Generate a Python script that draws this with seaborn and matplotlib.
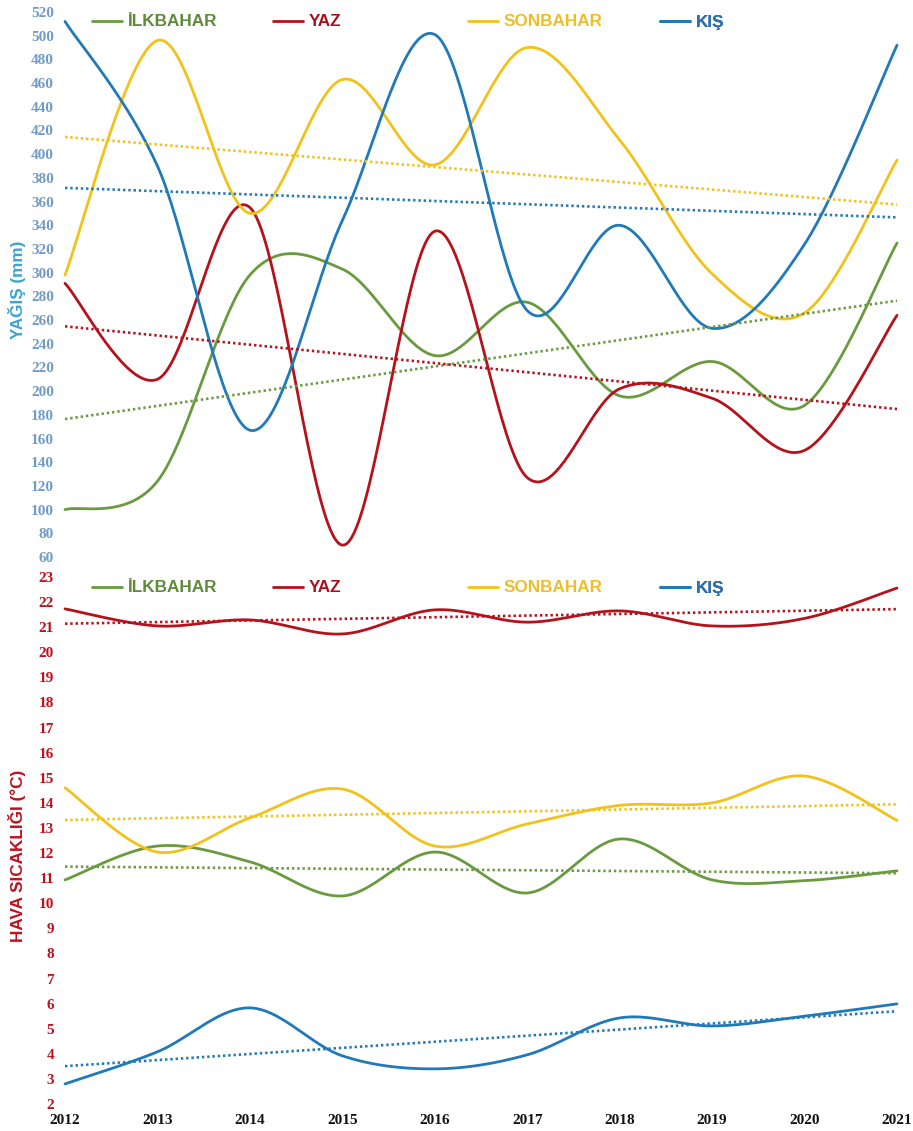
import numpy as np
import pandas as pd
import matplotlib
matplotlib.use("Agg")
import matplotlib.pyplot as plt
import seaborn as sns
from matplotlib.lines import Line2D

years = [2012, 2013, 2014, 2015, 2016, 2017, 2018, 2019, 2020, 2021]
series_names = ["İLKBAHAR", "YAZ", "SONBAHAR", "KIŞ"]

# Precipitation (mm)
rain_ilkbahar = [100, 124, 298, 303, 230, 275, 196, 225, 188, 325]
rain_yaz = [291, 210, 355, 70, 335, 127, 202, 194, 150, 264]
rain_sonbahar = [298, 496, 350, 463, 391, 490, 412, 299, 266, 395]
rain_kis = [512, 390, 167, 344, 501, 268, 340, 253, 324, 492]

# Air temperature (°C)
temp_ilkbahar = [10.93, 12.28, 11.65, 10.29, 12.04, 10.41, 12.56, 10.93, 10.9, 11.29]
temp_yaz = [21.73, 21.05, 21.29, 20.73, 21.69, 21.2, 21.65, 21.05, 21.35, 22.56]
temp_sonbahar = [14.6, 12.04, 13.4, 14.55, 12.28, 13.16, 13.9, 14.0, 15.07, 13.3]
temp_kis = [2.8, 4.08, 5.83, 3.92, 3.4, 3.96, 5.43, 5.11, 5.5, 5.99]

rain_ticks = list(range(60, 521, 20))
temp_ticks = list(range(2, 24, 1))

colors = {"İLKBAHAR": "#6A9A3E", "YAZ": "#B5121B", "SONBAHAR": "#F2C21B", "KIŞ": "#2079B8"}
label_colors = {"İLKBAHAR": "#5E8A3A", "YAZ": "#A8101E", "SONBAHAR": "#EDBE2C", "KIŞ": "#2E6FAE"}


def smooth(xs, ys, n=40):
    xs = np.asarray(xs, float)
    ys = np.asarray(ys, float)
    m = len(xs)
    px = np.concatenate([[xs[0]], xs, [xs[-1]]])
    py = np.concatenate([[ys[0]], ys, [ys[-1]]])
    ox, oy = [], []
    for i in range(m - 1):
        p0, p1, p2, p3 = (np.array([px[i + k], py[i + k]]) for k in range(4))
        b1 = p1 + (p2 - p0) / 6
        b2 = p2 - (p3 - p1) / 6
        t = np.linspace(0, 1, n, endpoint=(i == m - 2))
        pts = ((1 - t) ** 3)[:, None] * p1 + (3 * (1 - t) ** 2 * t)[:, None] * b1 \
            + (3 * (1 - t) * t ** 2)[:, None] * b2 + (t ** 3)[:, None] * p2
        ox.extend(pts[:, 0]); oy.extend(pts[:, 1])
    return ox, oy


def build(values):
    rows = []
    for name, vals in zip(series_names, values):
        sx, sy = smooth(years, vals)
        for a, b in zip(sx, sy):
            rows.append({"year": a, "value": b, "series": name})
    return pd.DataFrame(rows)


rain_vals = [rain_ilkbahar, rain_yaz, rain_sonbahar, rain_kis]
temp_vals = [temp_ilkbahar, temp_yaz, temp_sonbahar, temp_kis]

sns.set_theme(style="white")
W, H = 913, 1131
fig = plt.figure(figsize=(W / 100, H / 100), dpi=100)


def fx(px):
    return px / W


def fy(py):
    return 1 - py / H


left, right = 65, 897
ax1 = fig.add_axes([fx(left), fy(557), fx(right - left), fy(12) - fy(557)])
ax2 = fig.add_axes([fx(left), fy(1104), fx(right - left), fy(577) - fy(1104)])

tick_font = {"family": "Liberation Serif", "weight": "bold", "size": 11}

for ax, vals, ticks, ylim, tcol, ylabel, lcol, ly in [
    (ax1, rain_vals, rain_ticks, (60, 520), "#6F9BC6", "YAĞIŞ (mm)", "#3AA5CF", 0.49),
    (ax2, temp_vals, temp_ticks, (2, 23), "#C0101E", "HAVA SICAKLIĞI (°C)", "#C0101E", 0.47),
]:
    df = build(vals)
    sns.lineplot(data=df, x="year", y="value", hue="series", palette=colors,
                 hue_order=series_names, sort=False, estimator=None, units="series",
                 legend=False, lw=2.0, ax=ax)
    for line in ax.lines:
        line.set_clip_on(False)
    for name, v in zip(series_names, vals):
        sns.regplot(x=np.array(years, float), y=np.array(v, float), scatter=False, ci=None,
                    truncate=True, ax=ax,
                    line_kws=dict(color=colors[name], lw=1.9, ls=(0, (0.9, 1.1))))
    ax.set_xlim(2012, 2021)
    ax.set_ylim(*ylim)
    ax.set_yticks(ticks)
    ax.set_yticklabels([str(t) for t in ticks], fontdict=tick_font, color=tcol)
    ax.tick_params(axis="y", length=0, pad=8)
    for s in ax.spines.values():
        s.set_visible(False)
    ax.grid(False)
    ax.set_xlabel("")
    ax.set_ylabel(ylabel, color=lcol, fontsize=12.3, fontweight="bold", family="Liberation Sans")
    ax.yaxis.set_label_coords(-0.047, ly)
    ax.patch.set_alpha(0)

ax1.set_xticks([])
ax2.set_xticks(years)
ax2.set_xticklabels([str(y) for y in years], fontdict=tick_font, color="#111111")
ax2.tick_params(axis="x", length=0, pad=7)

# legends
leg_x = [92, 273, 468, 660]
for ax, ypx in [(ax1, 22), (ax2, 588)]:
    for name, xp in zip(series_names, leg_x):
        h = Line2D([0], [0], color=colors[name], lw=2.0)
        lg = ax.legend([h], [name], loc="center left", bbox_to_anchor=(fx(xp), fy(ypx)),
                       bbox_transform=fig.transFigure, frameon=False, handlelength=1.75,
                       handletextpad=0.35, borderpad=0, borderaxespad=0,
                       prop={"family": "Liberation Sans", "weight": "bold", "size": 12.3})
        for t in lg.get_texts():
            t.set_color(label_colors[name])
        ax.add_artist(lg)

fig.savefig("out.png", dpi=100)
